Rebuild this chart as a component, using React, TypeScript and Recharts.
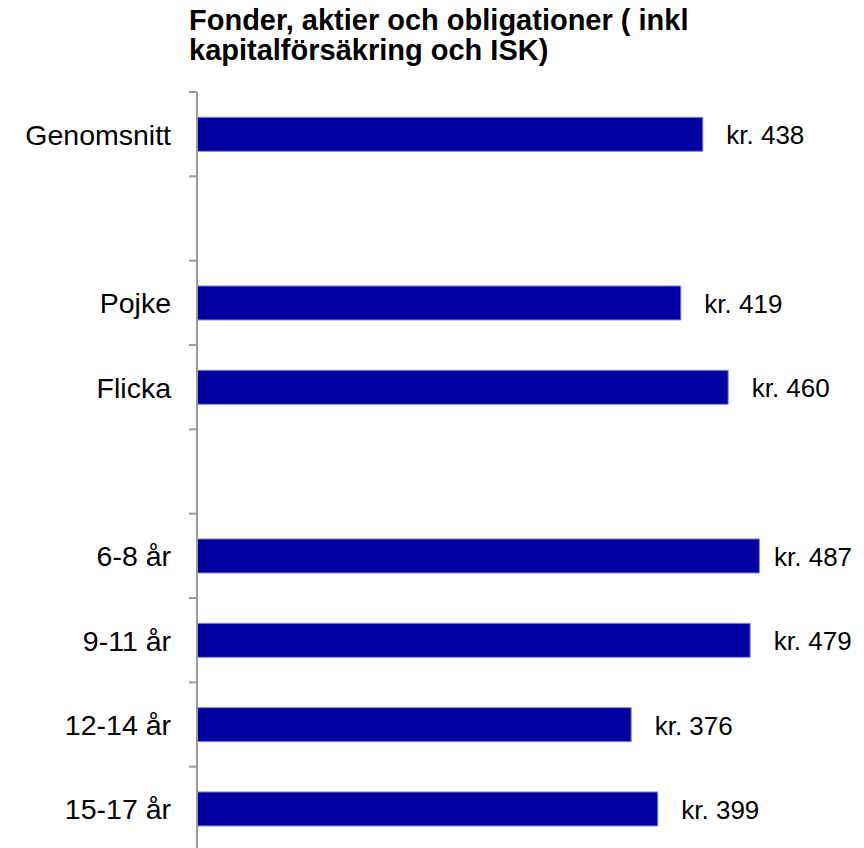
import React from 'react';
import { BarChart, Bar, XAxis, YAxis, LabelList } from 'recharts';

const categories = ['Genomsnitt', '', 'Pojke', 'Flicka', ' ', '6-8 år', '9-11 år', '12-14 år', '15-17 år'];
const values: (number | null)[] = [438, null, 419, 460, null, 487, 479, 376, 399];
const titleLines = ['Fonder, aktier och obligationer ( inkl', 'kapitalförsäkring och ISK)'];
const valuePrefix = 'kr. ';
const xDomain: [number, number] = [0, 575];

const data = categories.map((name, i) => ({ name, value: values[i] }));

const W = 864;
const H = 851;
const TOP = 92;
const AXIS_W = 197;
const BAND = (H - TOP) / categories.length;
const TICK_SIZE = 8;
const TICK_MARGIN = 18;
const LABEL_GAP = 23.5;
const LABEL_MAX_X = 774;
const FONT = '"Liberation Sans", Arial, Helvetica, sans-serif';
const AXIS_COLOR = '#9a9a9a';

const AxisTick = (props: any) => {
  const { y, payload } = props;
  const half = BAND / 2;
  const x2 = AXIS_W;
  const x1 = AXIS_W - TICK_SIZE;
  const last = payload && payload.index === categories.length - 1;
  return (
    <g>
      <line x1={x1} x2={x2} y1={y - half} y2={y - half} stroke={AXIS_COLOR} strokeWidth={2} />
      {last ? <line x1={x1} x2={x2} y1={y + half} y2={y + half} stroke={AXIS_COLOR} strokeWidth={2} /> : null}
      <text
        x={AXIS_W - TICK_SIZE - TICK_MARGIN}
        y={y}
        dy="0.37em"
        textAnchor="end"
        fill="#000"
        fontSize={28.5}
        fontFamily={FONT}
      >
        {payload.value}
      </text>
    </g>
  );
};

const ValueLabel = (props: any) => {
  const { x, y, width, height, value } = props;
  if (value == null || value === '') return null;
  const lx = Math.min(Number(x) + Number(width) + LABEL_GAP, LABEL_MAX_X);
  return (
    <text
      x={lx}
      y={Number(y) + Number(height) / 2}
      dy="0.38em"
      textAnchor="start"
      fill="#000"
      fontSize={26}
      fontFamily={FONT}
    >
      {valuePrefix + value}
    </text>
  );
};

export default function App() {
  return (
    <div
      style={{
        position: 'absolute',
        left: 0,
        top: 0,
        width: W,
        height: 848,
        overflow: 'hidden',
        background: '#fff',
      }}
    >
      <div
        style={{
          position: 'absolute',
          left: 189,
          top: 5,
          fontFamily: FONT,
          fontWeight: 'bold',
          fontSize: 29,
          lineHeight: '30px',
          color: '#000',
          whiteSpace: 'nowrap',
        }}
      >
        {titleLines.map((t, i) => (
          <div key={i}>{t}</div>
        ))}
      </div>
      <div style={{ position: 'absolute', left: 0, top: 0 }}>
        <BarChart
          width={W}
          height={H}
          data={data}
          layout="vertical"
          margin={{ top: TOP, right: 3, bottom: 0, left: 0 }}
          barCategoryGap="30%"
        >
          <XAxis type="number" domain={xDomain} hide />
          <YAxis
            type="category"
            dataKey="name"
            width={AXIS_W}
            tickLine={false}
            axisLine={{ stroke: AXIS_COLOR, strokeWidth: 2 }}
            tick={<AxisTick />}
            interval={0}
          />
          <Bar dataKey="value" fill="#0000A0" stroke="#8585d6" strokeWidth={1} isAnimationActive={false}>
            <LabelList dataKey="value" content={<ValueLabel />} />
          </Bar>
        </BarChart>
      </div>
    </div>
  );
}
